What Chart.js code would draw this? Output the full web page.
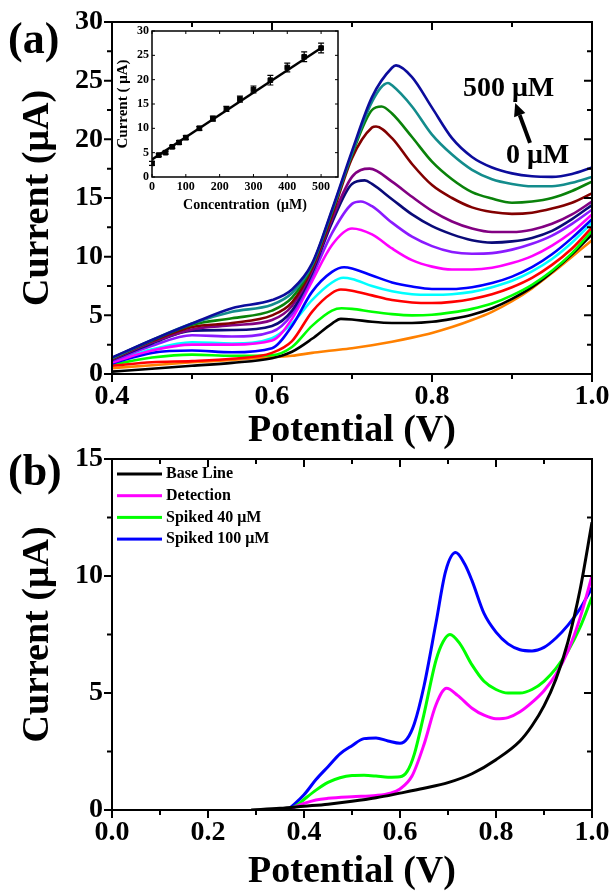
<!DOCTYPE html>
<html>
<head>
<meta charset="utf-8">
<script src="https://cdn.jsdelivr.net/npm/chart.js@4.4.0/dist/chart.umd.min.js"></script>
<style>
  body { margin: 0; background: #fff; }
  #wrap { position: relative; width: 611px; height: 893px; background: #fff; overflow: hidden; }
  canvas { position: absolute; }
  .lbl { position: absolute; font-family: 'Liberation Serif', 'Times New Roman', serif; font-weight: bold; line-height: 1; white-space: nowrap; color: #000; }
</style>
</head>
<body>
<div id="wrap">
  <canvas id="chartA" width="611" height="450" style="left:0;top:0"></canvas>
  <canvas id="chartB" width="611" height="448" style="left:0;top:445px"></canvas>
  <canvas id="chartInset" width="230" height="192" style="left:114px;top:24px"></canvas>
  <div class="lbl" style="left:8px;top:17px;font-size:44px">(a)</div>
  <div class="lbl" style="left:8px;top:449px;font-size:44px">(b)</div>
  <div class="lbl" style="left:463px;top:73px;font-size:28px">500 μM</div>
  <div class="lbl" style="left:506px;top:140px;font-size:28px">0 μM</div>
</div>
<script>
const FONT = "'Liberation Serif', 'Times New Roman', serif";

// ---- panel (a): DPV curves, potential grid (V) and current (uA), top trace first
const potentialA = [0.40, 0.45, 0.50, 0.55, 0.60, 0.625, 0.65, 0.675, 0.70, 0.725, 0.75, 0.775, 0.80, 0.825, 0.85, 0.875, 0.90, 0.925, 0.95, 0.975, 1.00];
const a01 = [1.4, 2.9, 4.3, 5.6, 6.3, 7.2, 9.4, 14.0, 19.0, 23.6, 26.1, 25.3, 22.7, 20.1, 18.5, 17.6, 17.1, 16.85, 16.8, 17.05, 17.6];
const a02 = [1.35, 2.9, 4.3, 5.3, 5.9, 6.9, 9.3, 13.9, 18.8, 23.2, 24.6, 22.8, 20.4, 18.7, 17.4, 16.6, 16.2, 16.0, 16.0, 16.3, 16.8];
const a03 = [1.35, 2.85, 4.2, 4.75, 5.4, 6.5, 9.2, 13.8, 18.7, 22.5, 22.2, 20.2, 18.1, 16.6, 15.5, 14.95, 14.6, 14.7, 15.0, 15.6, 16.4];
const a04 = [1.3, 2.8, 4.0, 4.35, 5.0, 6.1, 9.0, 13.5, 18.4, 21.0, 20.1, 17.9, 16.1, 15.0, 14.2, 13.8, 13.65, 13.75, 14.1, 14.6, 15.4];
const a05 = [1.25, 2.7, 3.8, 4.15, 4.6, 5.8, 8.8, 13.2, 16.8, 17.4, 16.4, 15.1, 13.9, 13.0, 12.4, 12.1, 12.1, 12.3, 12.8, 13.6, 14.7];
const a06 = [1.2, 2.6, 3.7, 3.75, 4.1, 5.4, 8.6, 12.9, 16.2, 16.2, 14.9, 13.6, 12.6, 11.9, 11.4, 11.2, 11.3, 11.6, 12.2, 13.2, 14.4];
const a07 = [1.1, 2.4, 3.3, 3.2, 3.6, 5.1, 8.3, 12.0, 14.5, 14.3, 12.9, 11.7, 10.9, 10.4, 10.25, 10.3, 10.6, 11.1, 11.8, 12.8, 14.0];
const a08 = [1.0, 2.0, 2.5, 2.5, 2.85, 4.7, 7.9, 11.0, 12.4, 11.9, 10.7, 9.7, 9.15, 8.9, 8.9, 9.05, 9.45, 10.05, 10.95, 12.1, 13.6];
const a09 = [0.9, 1.8, 2.0, 1.85, 2.2, 4.1, 7.0, 8.7, 9.0, 8.4, 7.8, 7.45, 7.25, 7.25, 7.4, 7.75, 8.3, 9.1, 10.2, 11.6, 13.2];
const a10 = [1.0, 2.1, 2.7, 2.6, 3.05, 4.3, 6.3, 7.8, 8.1, 7.5, 7.05, 6.8, 6.75, 6.8, 7.0, 7.4, 7.95, 8.75, 9.8, 11.2, 12.9];
const a11 = [0.7, 1.0, 1.1, 1.3, 1.8, 2.8, 5.3, 6.9, 7.1, 6.7, 6.3, 6.1, 6.05, 6.15, 6.4, 6.8, 7.4, 8.2, 9.3, 10.7, 12.5];
const a12 = [0.8, 1.4, 1.65, 1.55, 1.6, 2.3, 4.1, 5.4, 5.55, 5.3, 5.1, 5.0, 5.05, 5.25, 5.55, 6.0, 6.7, 7.6, 8.8, 10.3, 12.2];
const a13 = [0.2, 0.45, 0.7, 0.95, 1.35, 1.9, 3.0, 4.3, 4.65, 4.45, 4.35, 4.35, 4.45, 4.7, 5.05, 5.6, 6.4, 7.4, 8.7, 10.2, 11.9];
const a14 = [0.5, 0.75, 1.0, 1.2, 1.45, 1.55, 1.8, 2.0, 2.2, 2.45, 2.75, 3.1, 3.5, 4.0, 4.6, 5.3, 6.2, 7.3, 8.6, 10.0, 11.4];
const tracesA = [a01, a02, a03, a04, a05, a06, a07, a08, a09, a10, a11, a12, a13, a14];
// peak position [V, uA] of each trace (the blank has none)
const peaksA = [[0.755, 26.3], [0.745, 24.8], [0.737, 22.8], [0.73, 21.1], [0.722, 17.5], [0.716, 16.5], [0.711, 14.7],
  [0.70, 12.4], [0.69, 9.1], [0.689, 8.2], [0.686, 7.2], [0.687, 5.6], [0.686, 4.7], null];
const colorsA = ['#0C0C9C', '#138C8C', '#0A820A', '#820000', '#820082', '#0A0A78', '#8A1AFF',
  '#FF00FF', '#0000FF', '#00FFFF', '#FF0000', '#00FF00', '#000000', '#FF8000'];
const arrowFrom = [0.9225, 19.7];
const arrowTo = [0.904, 23.1];

// ---- inset: calibration plot
const concInset = [0, 20, 40, 60, 80, 100, 140, 180, 220, 260, 300, 350, 400, 450, 500];
const currentInset = [2.8, 4.5, 5.0, 6.2, 7.1, 8.1, 10.0, 12.0, 14.0, 16.0, 18.0, 19.9, 22.5, 24.7, 26.5];
const errInset = [0.4, 0.3, 0.3, 0.3, 0.4, 0.4, 0.4, 0.5, 0.5, 0.6, 0.7, 1.0, 0.9, 1.0, 1.0];
const fitX = [0, 500];
const fitY = [3.6, 26.5];

// ---- panel (b): [V, uA] pairs
const baseLine = [[0.29, 0], [0.35, 0.07], [0.40, 0.16], [0.45, 0.25], [0.50, 0.37], [0.55, 0.52], [0.60, 0.72], [0.65, 0.93],
  [0.70, 1.17], [0.75, 1.55], [0.80, 2.15], [0.85, 2.95], [0.875, 3.6], [0.90, 4.45], [0.925, 5.6], [0.95, 7.2], [0.975, 9.4], [1.0, 12.3]];
const detection = [[0.365, 0], [0.38, 0.12], [0.40, 0.28], [0.425, 0.43], [0.45, 0.5], [0.50, 0.57], [0.55, 0.62], [0.58, 0.72],
  [0.60, 0.9], [0.625, 1.45], [0.65, 2.8], [0.675, 4.5], [0.697, 5.2], [0.72, 4.9], [0.75, 4.35], [0.775, 4.05], [0.80, 3.9],
  [0.825, 3.95], [0.85, 4.2], [0.875, 4.6], [0.90, 5.1], [0.925, 5.8], [0.95, 6.8], [0.975, 8.2], [1.0, 10.0]];
const spiked40 = [[0.37, 0], [0.385, 0.2], [0.40, 0.45], [0.425, 0.85], [0.45, 1.18], [0.475, 1.38], [0.50, 1.47], [0.525, 1.48],
  [0.55, 1.45], [0.575, 1.4], [0.60, 1.42], [0.615, 1.65], [0.63, 2.4], [0.65, 4.1], [0.675, 6.4], [0.69, 7.2], [0.704, 7.5],
  [0.725, 7.1], [0.75, 6.2], [0.775, 5.5], [0.80, 5.15], [0.825, 5.0], [0.85, 5.0], [0.875, 5.15], [0.90, 5.5], [0.925, 6.05],
  [0.95, 6.8], [0.975, 7.8], [1.0, 9.1]];
const spiked100 = [[0.365, 0], [0.38, 0.25], [0.40, 0.65], [0.425, 1.3], [0.45, 1.85], [0.475, 2.4], [0.50, 2.75], [0.525, 3.05],
  [0.55, 3.08], [0.575, 2.95], [0.60, 2.85], [0.615, 3.05], [0.63, 3.7], [0.65, 5.3], [0.675, 8.0], [0.695, 10.2], [0.716, 11.0],
  [0.735, 10.5], [0.75, 9.8], [0.775, 8.4], [0.80, 7.6], [0.825, 7.1], [0.85, 6.85], [0.875, 6.8], [0.90, 6.95], [0.925, 7.35],
  [0.95, 7.9], [0.975, 8.6], [1.0, 9.5]];
const labelsB = ['Base Line', 'Detection', 'Spiked 40 μM', 'Spiked 100 μM'];
const colorsB = ['#000000', '#FF00FF', '#00FF00', '#0000FF'];

// merge the grid with the peak point of a trace
function buildA(values, peak) {
  const pts = potentialA.map((v, i) => ({ x: v, y: values[i] }));
  if (!peak) return pts;
  const kept = pts.filter(p => Math.abs(p.x - peak[0]) > 0.004);
  kept.push({ x: peak[0], y: peak[1] });
  return kept.sort((p, q) => p.x - q.x);
}
const toXY = pairs => pairs.map(p => ({ x: p[0], y: p[1] }));
const isMajor = (v, step) => Math.abs(v / step - Math.round(v / step)) < 1e-6;

// fixed axis box so the plot areas land where the figure has them
function fixSize(prop, size) {
  return scale => {
    scale[prop] = size;
    scale.paddingLeft = scale.paddingRight = scale.paddingTop = scale.paddingBottom = 0;
  };
}

// frame around the plot with Origin-like major/minor ticks
const framePlugin = {
  id: 'frame',
  afterDatasetsDraw(chart, args, o) {
    const { ctx, chartArea: a } = chart;
    const sx = chart.scales.x, sy = chart.scales.y;
    const dir = o.outward ? 1 : -1;
    ctx.save();
    ctx.strokeStyle = '#000';
    ctx.lineWidth = o.lineWidth;
    ctx.strokeRect(a.left, a.top, a.right - a.left, a.bottom - a.top);
    ctx.lineWidth = o.tickWidth;
    ctx.beginPath();
    sx.ticks.forEach(t => {
      const px = sx.getPixelForValue(t.value);
      const len = isMajor(t.value, o.xMajor) ? o.major : o.minor;
      ctx.moveTo(px, a.bottom); ctx.lineTo(px, a.bottom + dir * len);
      ctx.moveTo(px, a.top); ctx.lineTo(px, a.top + len);
    });
    sy.ticks.forEach(t => {
      const py = sy.getPixelForValue(t.value);
      const len = isMajor(t.value, o.yMajor) ? o.major : o.minor;
      ctx.moveTo(a.left, py); ctx.lineTo(a.left - dir * len, py);
      ctx.moveTo(a.right, py); ctx.lineTo(a.right - len, py);
    });
    ctx.stroke();
    ctx.restore();
  }
};

// line legend in the top-left corner of panel (b)
const legendBox = {
  id: 'legendBox',
  afterDraw(chart, args, o) {
    const { ctx, chartArea: a } = chart;
    ctx.save();
    ctx.font = 'bold 16px ' + FONT;
    ctx.textBaseline = 'middle';
    chart.data.datasets.forEach((d, i) => {
      const y = a.top + o.top + i * o.rowGap;
      ctx.fillStyle = d.borderColor;
      ctx.fillRect(a.left + o.left, y - 1.5, o.lineLen, 3);
      ctx.fillStyle = '#000';
      ctx.fillText(d.label, a.left + o.left + o.lineLen + o.gap, y);
    });
    ctx.restore();
  }
};

const arrowPlugin = {
  id: 'arrow',
  afterDatasetsDraw(chart) {
    const { ctx, scales: { x, y } } = chart;
    const x0 = x.getPixelForValue(arrowFrom[0]), y0 = y.getPixelForValue(arrowFrom[1]);
    const x1 = x.getPixelForValue(arrowTo[0]), y1 = y.getPixelForValue(arrowTo[1]);
    const ang = Math.atan2(y1 - y0, x1 - x0);
    const head = 13, hw = 6;
    const bx = x1 - head * Math.cos(ang), by = y1 - head * Math.sin(ang);
    ctx.save();
    ctx.strokeStyle = '#000';
    ctx.fillStyle = '#000';
    ctx.lineWidth = 4;
    ctx.beginPath();
    ctx.moveTo(x0, y0);
    ctx.lineTo(bx, by);
    ctx.stroke();
    ctx.beginPath();
    ctx.moveTo(x1, y1);
    ctx.lineTo(bx + hw * Math.sin(ang), by - hw * Math.cos(ang));
    ctx.lineTo(bx - hw * Math.sin(ang), by + hw * Math.cos(ang));
    ctx.closePath();
    ctx.fill();
    ctx.restore();
  }
};

const errorBars = {
  id: 'errorBars',
  afterDatasetsDraw(chart) {
    const { ctx, scales: { x, y } } = chart;
    ctx.save();
    ctx.strokeStyle = '#000';
    ctx.lineWidth = 1.2;
    ctx.beginPath();
    concInset.forEach((c, i) => {
      const px = x.getPixelForValue(c);
      const top = y.getPixelForValue(currentInset[i] + errInset[i]);
      const bot = y.getPixelForValue(currentInset[i] - errInset[i]);
      ctx.moveTo(px, top); ctx.lineTo(px, bot);
      ctx.moveTo(px - 3, top); ctx.lineTo(px + 3, top);
      ctx.moveTo(px - 3, bot); ctx.lineTo(px + 3, bot);
    });
    ctx.stroke();
    ctx.restore();
  }
};

const bigTick = { family: FONT, size: 28, weight: 'bold' };
const bigTitle = { family: FONT, size: 38, weight: 'bold', lineHeight: 1 };

// panel (a)
new Chart(document.getElementById('chartA'), {
  type: 'line',
  data: {
    datasets: tracesA.map((t, i) => ({
      data: buildA(t, peaksA[i]),
      borderColor: colorsA[i],
      borderWidth: 2.6,
      pointRadius: 0,
      fill: false,
      cubicInterpolationMode: 'monotone'
    }))
  },
  options: {
    responsive: false,
    animation: false,
    layout: { padding: { top: 22, right: 19, left: 0, bottom: 0 } },
    plugins: {
      legend: { display: false },
      tooltip: { enabled: false },
      frame: { lineWidth: 2, tickWidth: 2, major: 8, minor: 5, outward: true, xMajor: 0.2, yMajor: 5 }
    },
    scales: {
      x: {
        type: 'linear', min: 0.4, max: 1.0,
        grid: { display: false, drawTicks: false },
        border: { display: false },
        ticks: {
          stepSize: 0.1, autoSkip: false, maxRotation: 0, padding: 6, color: '#000', font: bigTick,
          callback: v => isMajor(v, 0.2) ? v.toFixed(1) : ''
        },
        title: { display: true, text: 'Potential (V)', color: '#000', font: bigTitle, padding: { top: 0, bottom: 0 } },
        afterFit: fixSize('height', 76)
      },
      y: {
        min: 0, max: 30,
        grid: { display: false, drawTicks: false },
        border: { display: false },
        ticks: {
          stepSize: 2.5, autoSkip: false, padding: 9, color: '#000', font: bigTick,
          callback: v => isMajor(v, 5) ? String(v) : ''
        },
        title: { display: true, text: 'Current (μA)', color: '#000', font: bigTitle, padding: { top: 19, bottom: 0 } },
        afterFit: fixSize('width', 112)
      }
    }
  },
  plugins: [framePlugin, arrowPlugin]
});

// inset calibration
const smallTick = { family: FONT, size: 12, weight: 'bold' };
new Chart(document.getElementById('chartInset'), {
  type: 'line',
  data: {
    datasets: [
      {
        data: concInset.map((c, i) => ({ x: c, y: currentInset[i] })),
        showLine: false,
        pointStyle: 'rect',
        pointRadius: 3.3,
        backgroundColor: '#000',
        borderColor: '#000'
      },
      {
        data: fitX.map((c, i) => ({ x: c, y: fitY[i] })),
        borderColor: '#000',
        borderWidth: 2.5,
        pointRadius: 0
      }
    ]
  },
  options: {
    responsive: false,
    animation: false,
    layout: { padding: { top: 7, right: 6, left: 0, bottom: 0 } },
    plugins: {
      legend: { display: false },
      tooltip: { enabled: false },
      frame: { lineWidth: 1.5, tickWidth: 1, major: 3, minor: 2, outward: false, xMajor: 100, yMajor: 5 }
    },
    scales: {
      x: {
        type: 'linear', min: 0, max: 550,
        grid: { display: false, drawTicks: false },
        border: { display: false },
        ticks: { stepSize: 100, includeBounds: false, autoSkip: false, maxRotation: 0, padding: 3, color: '#000', font: smallTick },
        title: { display: true, text: 'Concentration  (μM)', color: '#000', font: { family: FONT, size: 14, weight: 'bold', lineHeight: 1 }, padding: { top: 0, bottom: 4 } },
        afterFit: fixSize('height', 39)
      },
      y: {
        min: 0, max: 30,
        grid: { display: false, drawTicks: false },
        border: { display: false },
        ticks: { stepSize: 5, autoSkip: false, padding: 3, color: '#000', font: smallTick },
        title: { display: true, text: 'Current ( μA)', color: '#000', font: { family: FONT, size: 15, weight: 'bold', lineHeight: 1 }, padding: { top: 2, bottom: 0 } },
        afterFit: fixSize('width', 38)
      }
    }
  },
  plugins: [framePlugin, errorBars]
});

// panel (b)
new Chart(document.getElementById('chartB'), {
  type: 'line',
  data: {
    datasets: [baseLine, detection, spiked40, spiked100].map((s, i) => ({
      label: labelsB[i],
      data: toXY(s),
      borderColor: colorsB[i],
      backgroundColor: colorsB[i],
      borderWidth: 3,
      pointRadius: 0,
      fill: false,
      cubicInterpolationMode: 'monotone'
    }))
  },
  options: {
    responsive: false,
    animation: false,
    layout: { padding: { top: 14, right: 19, left: 0, bottom: 0 } },
    plugins: {
      tooltip: { enabled: false },
      legend: { display: false },
      legendBox: { top: 15, rowGap: 21.7, left: 5, lineLen: 45, gap: 4 },
      frame: { lineWidth: 2, tickWidth: 2, major: 8, minor: 5, outward: true, xMajor: 0.2, yMajor: 5 }
    },
    scales: {
      x: {
        type: 'linear', min: 0, max: 1.0,
        grid: { display: false, drawTicks: false },
        border: { display: false },
        ticks: {
          stepSize: 0.1, autoSkip: false, maxRotation: 0, padding: 6, color: '#000', font: bigTick,
          callback: v => isMajor(v, 0.2) ? v.toFixed(1) : ''
        },
        title: { display: true, text: 'Potential (V)', color: '#000', font: bigTitle, padding: { top: 0, bottom: 2 } },
        afterFit: fixSize('height', 83)
      },
      y: {
        min: 0, max: 15,
        grid: { display: false, drawTicks: false },
        border: { display: false },
        ticks: {
          stepSize: 2.5, autoSkip: false, padding: 9, color: '#000', font: bigTick,
          callback: v => isMajor(v, 5) ? String(v) : ''
        },
        title: { display: true, text: 'Current (μA)', color: '#000', font: bigTitle, padding: { top: 19, bottom: 0 } },
        afterFit: fixSize('width', 112)
      }
    }
  },
  plugins: [framePlugin, legendBox]
});
</script>
</body>
</html>
